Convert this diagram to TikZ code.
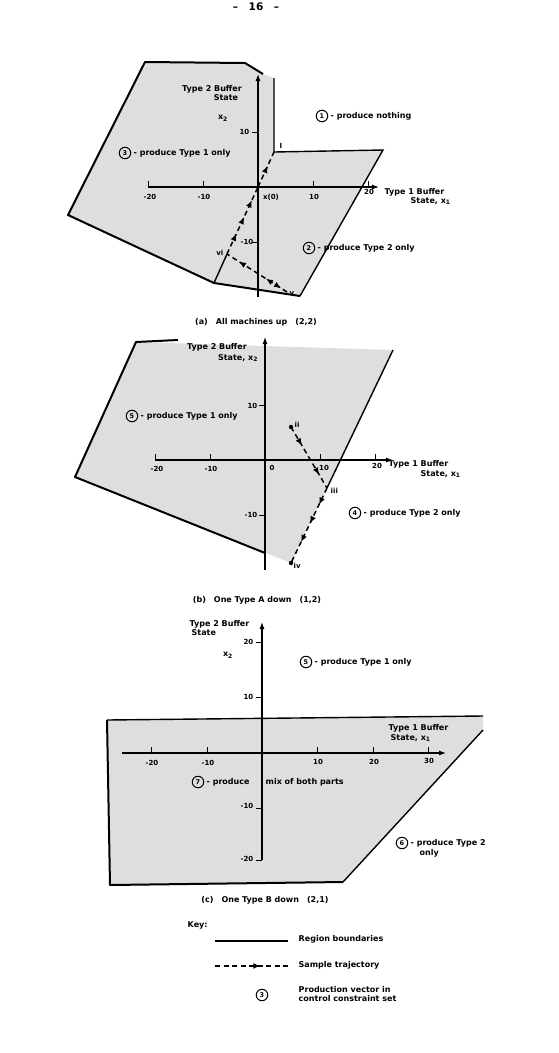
\documentclass[tikz,border=0pt]{standalone}
\usepackage{fontspec}
\setmainfont{DejaVu Sans}
\usetikzlibrary{arrows.meta,decorations.markings}
\begin{document}
\begin{tikzpicture}[x=1pt,y=-1pt,
  >={Latex[length=7pt,width=6pt]},
  lbl/.style={font=\fontsize{8}{9}\selectfont\bfseries, inner sep=0.5pt},
  tkl/.style={font=\fontsize{7}{8}\selectfont\bfseries, inner sep=0.5pt},
  captxt/.style={font=\fontsize{8}{9}\selectfont\bfseries, inner sep=0.5pt},
  cn/.style={circle, draw, line width=1pt, inner sep=0pt, minimum size=11.5pt, font=\fontsize{6.5}{7}\selectfont\bfseries},
  axis/.style={line width=1.1pt, -{Latex[length=7pt,width=5pt]}},
  tk/.style={line width=1pt},
  bnd/.style={line width=1.4pt},
  edge/.style={line width=2pt, line join=round},
  shade/.style={fill=black!13},
  traj/.style={line width=1.5pt, dash pattern=on 5pt off 3.5pt, postaction={decorate}},
]
\useasboundingbox (0,0) rectangle (558,1053);

% header
\node[font=\fontsize{10.5}{11}\selectfont\bfseries] (hdr) at (256,7) {--\quad 16\quad --};

% ================= panel (a) =================
\coordinate (Oa) at (258,187);
\coordinate (Ia) at (274,152);
\coordinate (via) at (227,254);
\coordinate (va) at (287,292);
\coordinate (a1) at (145,62);
\coordinate (a2) at (245,63);
\coordinate (a3) at (263,74);
\coordinate (a4) at (274,78);
\coordinate (a5) at (383,150);
\coordinate (a6) at (300,296);
\coordinate (a7) at (214,283);
\coordinate (a8) at (68,215);
\fill[shade] (a1)--(a2)--(a3)--(a4)--(Ia)--(a5)--(a6)--(a7)--(a8)--cycle;
\draw[edge] (a3)--(a2)--(a1)--(a8)--(a7)--(a6);
\draw[bnd] (a4)--(Ia)--(a5)--(a6);
\draw[bnd] (a7)--(via);
% axes
\coordinate (xa0) at (148,187); \coordinate (xa1) at (379,187);
\coordinate (ya0) at (258,297); \coordinate (ya1) at (258,74);
\draw[axis] (xa0)--(xa1);
\draw[axis] (ya0)--(ya1);
\foreach \x in {148,203,313,368} \draw[tk] (\x,187)--(\x,181);
\foreach \y in {132,242} \draw[tk] (258,\y)--(252,\y);
\node[tkl] (ta20) at (150,197) {-20};
\node[tkl] (ta10) at (204,197) {-10};
\node[tkl] (tx0) at (271,197) {x(0)};
\node[tkl] (tap10) at (314,197) {10};
\node[tkl] (tap20) at (369,192) {20};
\node[tkl,anchor=east] (tay10) at (250,132) {10};
\node[tkl,anchor=east] (taym10) at (254,242) {-10};
\node[lbl,anchor=west] (xla) at (384,192) {Type 1 Buffer};
\node[lbl,anchor=west] (xlb) at (410,201) {State, x\textsubscript{1}};
\node[lbl] (yla) at (212,89) {Type 2 Buffer};
\node[lbl] (ylb) at (226,98) {State};
\node[lbl] (ylc) at (223,118) {x\textsubscript{2}};
% trajectory
\draw[traj, decoration={markings, mark=at position 0.6 with {\arrow{>}}}] (Oa)--(Ia);
\draw[traj, decoration={markings, mark=at position 0.3 with {\arrow{>}}, mark=at position 0.55 with {\arrow{>}}, mark=at position 0.8 with {\arrow{>}}}] (via)--(Oa);
\draw[traj, decoration={markings, mark=at position 0.1 with {\arrowreversed{>}}, mark=at position 0.35 with {\arrow{>}}, mark=at position 0.8 with {\arrow{>}}}] (va)--(via);
\node[tkl] (lI) at (281,146) {I};
\node[tkl,anchor=east] (lvi) at (224,253) {vi};
\node[tkl,anchor=west] (lv) at (289,294) {v};
% regions
\node[cn] (r1) at (322,116) {1};
\node[lbl,anchor=west] (r1t) at (330,116) {- produce nothing};
\node[cn] (r3) at (125,153) {3};
\node[lbl,anchor=west] (r3t) at (133,153) {- produce Type 1 only};
\node[cn] (r2) at (309,248) {2};
\node[lbl,anchor=west] (r2t) at (317,248) {- produce Type 2 only};
\node[captxt] (capa) at (256,322) {(a)\quad All machines up\quad (2,2)};

% ================= panel (b) =================
\coordinate (Ob) at (265,460);
\coordinate (Pb) at (393,350);
\coordinate (iii) at (327,488);
\coordinate (iv) at (291,563);
\coordinate (ii) at (291,427);
\coordinate (b1) at (136,342);
\coordinate (b1s) at (178,340);
\coordinate (b4) at (75,477);
\coordinate (b5) at (265,553);
\fill[shade] (b1)--(Pb)--(iv)--(b4)--cycle;
\draw[edge] (b1s)--(b1)--(b4)--(b5);
\draw[bnd] (Pb)--(iii);
\coordinate (xb0) at (155,460); \coordinate (xb1) at (393,460);
\coordinate (yb0) at (265,570); \coordinate (yb1) at (265,337);
\draw[axis] (xb0)--(xb1);
\draw[axis] (yb0)--(yb1);
\foreach \x in {155,210,320,375} \draw[tk] (\x,460)--(\x,454);
\foreach \y in {405,515} \draw[tk] (265,\y)--(259,\y);
\node[tkl] (tb20) at (157,469) {-20};
\node[tkl] (tb10) at (211,469) {-10};
\node[tkl] (tb0) at (272,468) {0};
\node[tkl] (tbp10) at (324,468) {10};
\node[tkl] (tbp20) at (377,466) {20};
\node[tkl,anchor=east] (tby10) at (258,406) {10};
\node[tkl,anchor=east] (tbym10) at (258,515) {-10};
\node[lbl,anchor=west] (xlbb) at (388,464) {Type 1 Buffer};
\node[lbl,anchor=west] (xlbc) at (420,474) {State, x\textsubscript{1}};
\node[lbl] (ylbb) at (217,347) {Type 2 Buffer};
\node[lbl] (ylbc) at (238,358) {State, x\textsubscript{2}};
\draw[traj, decoration={markings, mark=at position 0.3 with {\arrow{>}}, mark=at position 0.78 with {\arrow{>}}}] (ii)--(iii);
\draw[traj, decoration={markings, mark=at position 0.22 with {\arrow{>}}, mark=at position 0.47 with {\arrow{>}}, mark=at position 0.72 with {\arrow{>}}}] (iii)--(iv);
\fill (ii) circle (2.2);
\fill (iv) circle (2.2);
\node[tkl,anchor=west] (lii) at (294,425) {ii};
\node[tkl,anchor=west] (liii) at (330,491) {iii};
\node[tkl,anchor=west] (liv) at (293,566) {iv};
\node[cn] (r5) at (132,416) {5};
\node[lbl,anchor=west] (r5t) at (140,416) {- produce Type 1 only};
\node[cn] (r4) at (355,513) {4};
\node[lbl,anchor=west] (r4t) at (363,513) {- produce Type 2 only};
\node[captxt] (capb) at (257,600) {(b)\quad One Type A down\quad (1,2)};

% ================= panel (c) =================
\coordinate (Oc) at (262,753);
\coordinate (c1) at (107,720);
\coordinate (c2) at (483,716);
\coordinate (c3) at (483,730);
\coordinate (c4) at (343,882);
\coordinate (c5) at (110,885);
\fill[shade] (c1)--(c2)--(c3)--(c4)--(c5)--cycle;
\draw[edge] (c1)--(c5)--(c4);
\draw[bnd] (c1)--(c2);
\draw[bnd] (c4)--(c3);
\coordinate (xc0) at (122,753); \coordinate (xc1) at (446,753);
\coordinate (yc0) at (262,860); \coordinate (yc1) at (262,622);
\draw[axis] (xc0)--(xc1);
\draw[axis] (yc0)--(yc1);
\foreach \x in {151,207,317,373,428} \draw[tk] (\x,753)--(\x,747);
\foreach \y in {642,697,808,860} \draw[tk] (262,\y)--(256,\y);
\node[tkl] (tc20) at (152,763) {-20};
\node[tkl] (tc10) at (208,763) {-10};
\node[tkl] (tcp10) at (318,762) {10};
\node[tkl] (tcp20) at (374,762) {20};
\node[tkl] (tcp30) at (429,761) {30};
\node[tkl,anchor=east] (tcy20) at (254,642) {20};
\node[tkl,anchor=east] (tcy10) at (254,697) {10};
\node[tkl,anchor=east] (tcym10) at (254,806) {-10};
\node[tkl,anchor=east] (tcym20) at (254,859) {-20};
\node[lbl,anchor=west] (ylca) at (189,624) {Type 2 Buffer};
\node[lbl,anchor=west] (ylcb) at (191,633) {State};
\node[lbl] (ylcc) at (228,655) {x\textsubscript{2}};
\node[lbl,anchor=west] (xlca) at (388,728) {Type 1 Buffer};
\node[lbl,anchor=west] (xlcb) at (390,738) {State, x\textsubscript{1}};
\node[cn] (r5c) at (306,662) {5};
\node[lbl,anchor=west] (r5ct) at (314,662) {- produce Type 1 only};
\node[cn] (r7) at (198,782) {7};
\node[lbl,anchor=west] (r7t) at (206,782) {- produce};
\node[lbl,anchor=west] (r7u) at (265,782) {mix of both parts};
\node[cn] (r6) at (402,843) {6};
\node[lbl,anchor=west] (r6t) at (410,843) {- produce Type 2};
\node[lbl,anchor=west] (r6u) at (419,853) {only};
\node[captxt] (capc) at (265,900) {(c)\quad One Type B down\quad (2,1)};

% ================= key =================
\node[lbl,anchor=west] (key) at (187,925) {Key:};
\coordinate (k1) at (215,941); \coordinate (k2) at (288,941);
\draw[bnd] (k1)--(k2);
\node[lbl,anchor=west] (k1t) at (298,939) {Region boundaries};
\coordinate (k3) at (215,966); \coordinate (k4) at (288,966);
\draw[traj, decoration={markings, mark=at position 0.62 with {\arrow{>}}}] (k3)--(k4);
\node[lbl,anchor=west] (k2t) at (298,965) {Sample trajectory};
\node[cn] (k3c) at (262,995) {3};
\node[lbl,anchor=west] (k3t) at (298,990) {Production vector in};
\node[lbl,anchor=west] (k3u) at (298,999) {control constraint set};
\end{tikzpicture}
\end{document}
